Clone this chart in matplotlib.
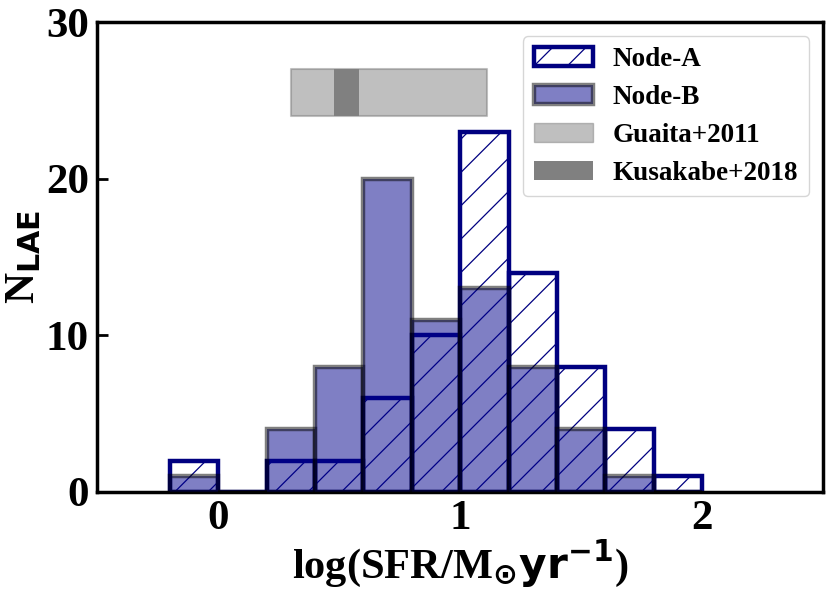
import numpy as np
import matplotlib
matplotlib.use("Agg")
import matplotlib.pyplot as plt
from matplotlib.patches import Patch

bin_edges = [-0.2, 0.0, 0.2, 0.4, 0.6, 0.8, 1.0, 1.2, 1.4, 1.6, 1.8, 2.0]
node_a_counts = [2, 0, 2, 2, 6, 10, 23, 14, 8, 4, 1]
node_b_counts = [1, 0, 4, 8, 20, 11, 13, 8, 4, 1, 0]
guaita_range = [0.3, 1.11]
kusakabe_range = [0.48, 0.58]
band_y = [24, 27]
labels = ["Node-A", "Node-B", "Guaita+2011", "Kusakabe+2018"]

DPI = 100

plt.rcParams['font.family'] = ['Liberation Serif', 'DejaVu Serif']
plt.rcParams['font.weight'] = 'bold'
plt.rcParams['mathtext.fontset'] = 'dejavusans'
plt.rcParams['mathtext.default'] = 'bf'
plt.rcParams['hatch.color'] = 'navy'
plt.rcParams['hatch.linewidth'] = 0.9

fig = plt.figure(figsize=(830 / DPI, 596 / DPI), dpi=DPI)
ax = fig.add_axes([0.117, 0.1745, 0.875, 0.7885])

edges = np.array(bin_edges)
centers = (edges[:-1] + edges[1:]) / 2

lw = 3.2
ax.hist(centers, bins=edges, weights=node_a_counts, histtype='bar',
        facecolor='none', edgecolor='navy', hatch='/', linewidth=lw, zorder=2)
ax.hist(centers, bins=edges, weights=node_b_counts, histtype='bar',
        facecolor=(0, 0, 0.545, 0.5), edgecolor=(0, 0, 0, 0.5), linewidth=lw, zorder=3)

ax.fill_between(guaita_range, band_y[0], band_y[1], color='gray', alpha=0.5,
                linewidth=1.5, zorder=1)
ax.fill_between(kusakabe_range, band_y[0], band_y[1], color='#808080',
                linewidth=0, zorder=1.5)

ax.set_xlim(-0.5, 2.5)
ax.set_ylim(0, 30)
ax.set_xticks([0, 1, 2])
ax.set_yticks([0, 10, 20, 30])
ax.tick_params(direction='in', length=8, width=2, labelsize=31, pad=6)
for lab in ax.get_xticklabels() + ax.get_yticklabels():
    lab.set_fontweight('bold')
for s in ax.spines.values():
    s.set_linewidth(2.5)

ax.set_xlabel(r'log(SFR/M$_{\odot}$$\mathbf{yr^{-1}}$)', fontsize=30.5,
              fontweight='bold', labelpad=0)
ax.set_ylabel(r'N$_{\rm \mathbf{LAE}}$', fontsize=31, fontweight='bold', labelpad=2)

handles = [
    Patch(facecolor='none', edgecolor='navy', hatch='/', linewidth=lw),
    Patch(facecolor=(0, 0, 0.545, 0.5), edgecolor=(0, 0, 0, 0.5), linewidth=lw),
    Patch(facecolor='gray', alpha=0.5, edgecolor='gray', linewidth=1.0),
    Patch(facecolor='#808080', linewidth=0),
]
ax.legend(handles, labels, loc='upper right',
          prop={'weight': 'bold', 'size': 19.5}, frameon=True,
          handlelength=2.2, handleheight=0.72, borderpad=0.4, labelspacing=0.47,
          handletextpad=0.72, borderaxespad=0.52)

fig.savefig('out.png', dpi=DPI)
